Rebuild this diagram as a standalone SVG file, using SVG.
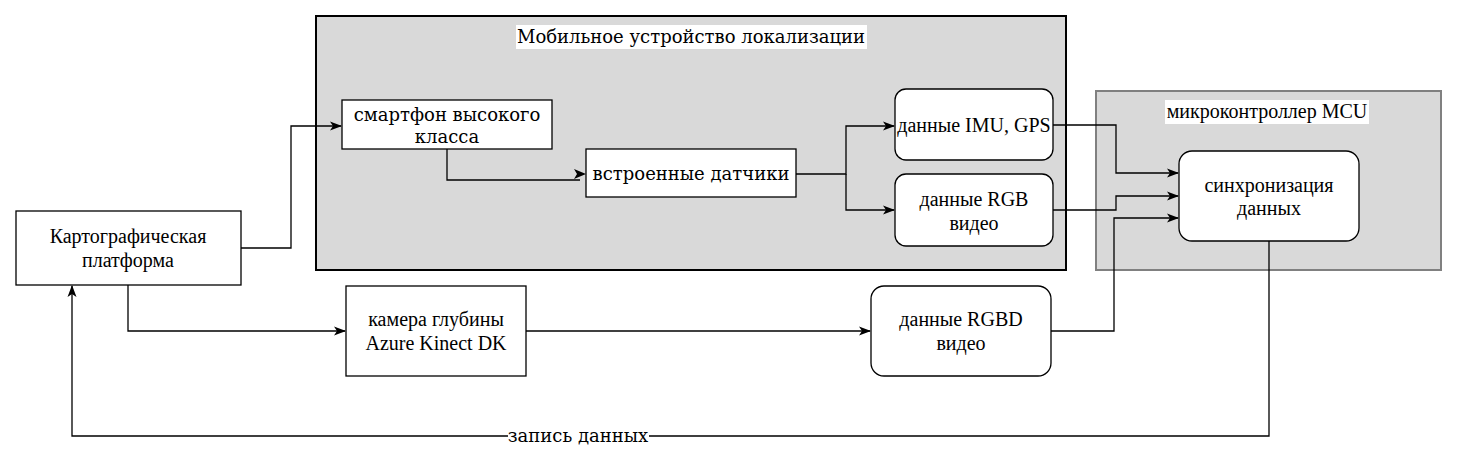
<svg xmlns="http://www.w3.org/2000/svg" width="1457" height="464" viewBox="0 0 1457 464">
<style>
.box{fill:#fff;stroke:#000;stroke-width:1.3}
.w{font-family:"DejaVu Serif",serif;font-size:18px;fill:#000;text-anchor:middle}
.n{font-family:"Liberation Serif",serif;font-size:20px;fill:#000;text-anchor:middle}
.c{fill:none;stroke:#000;stroke-width:1.3}
</style>
<defs>
<marker id="a" viewBox="0 0 12 10" refX="11" refY="5" markerWidth="12" markerHeight="10" markerUnits="userSpaceOnUse" orient="auto">
<path d="M0,0.5 L12,5 L0,9.5 L3,5 Z" fill="#000"/>
</marker>
</defs>
<rect width="1457" height="464" fill="#fff"/>
<g id="mobile-device">
<rect x="316" y="16" width="750" height="254" fill="#d9d9d9" stroke="#000" stroke-width="2"/>
<rect x="516" y="25" width="351" height="24" fill="#fff"/>
<text class="w" x="691" y="43">Мобильное устройство локализации</text>
</g>
<g id="mcu">
<rect x="1096" y="91" width="345" height="179" fill="#d9d9d9" stroke="#808080" stroke-width="2"/>
<rect x="1165" y="100" width="204" height="24" fill="#fff"/>
<text class="n" x="1267" y="118">микроконтроллер MCU</text>
</g>
<g id="smartphone">
<rect class="box" x="342" y="100" width="210" height="49"/>
<text class="w" x="447" y="121">смартфон высокого</text>
<text class="w" x="447" y="143">класса</text>
</g>
<g id="sensors">
<rect class="box" x="586" y="149" width="210" height="48"/>
<text class="w" x="691" y="180">встроенные датчики</text>
</g>
<g id="imu">
<rect class="box" x="895" y="89" width="158" height="71" rx="11"/>
<text class="n" x="974" y="132">данные IMU, GPS</text>
</g>
<g id="rgb">
<rect class="box" x="895" y="174" width="158" height="72" rx="11"/>
<text class="n" x="974" y="206">данные RGB</text>
<text class="n" x="974" y="230">видео</text>
</g>
<g id="sync">
<rect class="box" x="1179" y="151" width="180" height="90" rx="13"/>
<text class="n" x="1269" y="192">синхронизация</text>
<text class="n" x="1269" y="215">данных</text>
</g>
<g id="map-platform">
<rect class="box" x="16" y="211" width="225" height="74"/>
<text class="n" x="128" y="243">Картографическая</text>
<text class="n" x="128" y="267">платформа</text>
</g>
<g id="kinect">
<rect class="box" x="346" y="286" width="180" height="90"/>
<text class="n" x="436" y="326">камера глубины</text>
<text class="n" x="436" y="350">Azure Kinect DK</text>
</g>
<g id="rgbd">
<rect class="box" x="871" y="286" width="180" height="90" rx="13"/>
<text class="n" x="961" y="326">данные RGBD</text>
<text class="n" x="961" y="350">видео</text>
</g>
<g id="connectors">
<path class="c" d="M241,248 H291 V126 H341" marker-end="url(#a)"/>
<path class="c" d="M447,149 V180 H580"/>
<path d="M574,169 L586,174 L574,179 L577,174 Z" fill="#000"/>
<path class="c" d="M796,174 H846 V126 H894" marker-end="url(#a)"/>
<path class="c" d="M846,174 V210 H894" marker-end="url(#a)"/>
<path class="c" d="M1053,125 H1116 V173 H1178" marker-end="url(#a)"/>
<path class="c" d="M1053,210 H1116 V196 H1178" marker-end="url(#a)"/>
<path class="c" d="M1051,331 H1114 V218 H1178" marker-end="url(#a)"/>
<path class="c" d="M526,331 H870" marker-end="url(#a)"/>
<path class="c" d="M128,285 V331 H345" marker-end="url(#a)"/>
<path class="c" d="M1269,241 V436 H72 V286" marker-end="url(#a)"/>
<rect x="508" y="426" width="141" height="20" fill="#fff"/>
<text class="w" x="578" y="442">запись данных</text>
</g>
</svg>
